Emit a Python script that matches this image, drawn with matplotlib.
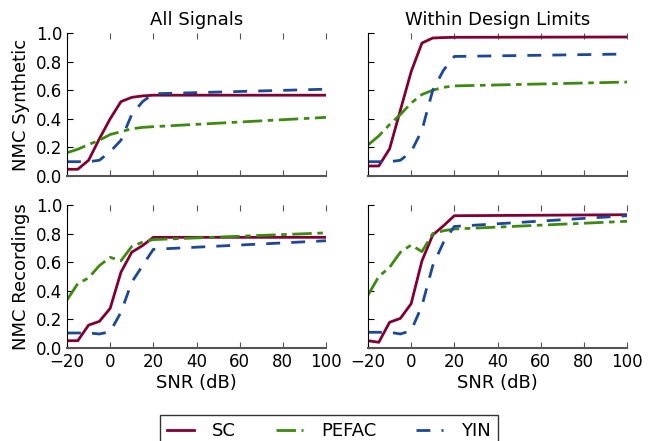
import matplotlib
matplotlib.use('Agg')
import matplotlib.pyplot as plt

# SNR grid (dB)
snr = [-20, -15, -10, -5, 0, 5, 10, 15, 20, 100]

# All Signals, synthetic
sc_syn_all = [0.047, 0.047, 0.11, 0.26, 0.40, 0.52, 0.55, 0.56, 0.565, 0.565]
pefac_syn_all = [0.163, 0.187, 0.22, 0.25, 0.29, 0.31, 0.33, 0.34, 0.345, 0.41]
yin_syn_all = [0.10, 0.10, 0.10, 0.11, 0.17, 0.25, 0.43, 0.52, 0.575, 0.607]

# Within Design Limits, synthetic
sc_syn_lim = [0.07, 0.07, 0.19, 0.46, 0.73, 0.93, 0.965, 0.968, 0.97, 0.972]
pefac_syn_lim = [0.217, 0.28, 0.36, 0.43, 0.51, 0.57, 0.60, 0.62, 0.63, 0.657]
yin_syn_lim = [0.10, 0.10, 0.10, 0.11, 0.17, 0.32, 0.60, 0.74, 0.836, 0.853]

# All Signals, recordings
sc_rec_all = [0.051, 0.051, 0.16, 0.186, 0.277, 0.53, 0.67, 0.716, 0.774, 0.774]
pefac_rec_all = [0.336, 0.45, 0.49, 0.576, 0.634, 0.61, 0.71, 0.74, 0.758, 0.805]
yin_rec_all = [0.105, 0.105, 0.105, 0.098, 0.114, 0.25, 0.46, 0.576, 0.69, 0.75]

# Within Design Limits, recordings
sc_rec_lim = [0.051, 0.04, 0.18, 0.207, 0.31, 0.61, 0.79, 0.855, 0.925, 0.932]
pefac_rec_lim = [0.37, 0.50, 0.564, 0.67, 0.72, 0.674, 0.80, 0.82, 0.832, 0.886]
yin_rec_lim = [0.11, 0.11, 0.11, 0.098, 0.121, 0.296, 0.576, 0.74, 0.85, 0.925]

col_titles = ['All Signals', 'Within Design Limits']
row_labels = ['NMC Synthetic', 'NMC Recordings']
methods = ['SC', 'PEFAC', 'YIN']

data = [
    [(sc_syn_all, pefac_syn_all, yin_syn_all), (sc_syn_lim, pefac_syn_lim, yin_syn_lim)],
    [(sc_rec_all, pefac_rec_all, yin_rec_all), (sc_rec_lim, pefac_rec_lim, yin_rec_lim)],
]

SC_COL = '#800033'
PEFAC_COL = '#3d8a12'
YIN_COL = '#1c4896'

plt.rcParams['font.family'] = 'DejaVu Sans'
plt.rcParams['font.size'] = 12

fig = plt.figure(figsize=(6.56, 4.41), dpi=100)

# axes placement (pixel-measured)
lefts = [67 / 656, 368 / 656]
bottoms = [1 - 176 / 441, 1 - 348 / 441]
w = 259 / 656
h = 143 / 441

handles = []
for r in range(2):
    for c in range(2):
        ax = fig.add_axes([lefts[c], bottoms[r], w, h])
        sc, pe, yn = data[r][c]
        l1, = ax.plot(snr, sc, color=SC_COL, lw=2, ls='-')
        l2, = ax.plot(snr, pe, color=PEFAC_COL, lw=2, dashes=(7, 2, 2, 2))
        l3, = ax.plot(snr, yn, color=YIN_COL, lw=2, dashes=(5, 4))
        handles = [l1, l2, l3]
        ax.set_xlim(-20, 100)
        ax.set_ylim(0, 1)
        ax.set_xticks([-20, 0, 20, 40, 60, 80, 100])
        ax.set_yticks([0, 0.2, 0.4, 0.6, 0.8, 1.0])
        ax.spines['top'].set_visible(False)
        ax.spines['right'].set_visible(False)
        ax.spines['bottom'].set_color('#555555')
        ax.spines['bottom'].set_linewidth(1.5)
        ax.tick_params(axis='x', direction='in', top=True, length=4, colors='#555555',
                       labelcolor='black', labelsize=12)
        ax.tick_params(axis='y', direction='in', right=False, length=4, labelsize=12)
        if r == 0:
            ax.set_title(col_titles[c], fontsize=13)
            ax.tick_params(labelbottom=False)
        else:
            ax.set_xlabel('SNR (dB)', fontsize=13, labelpad=2)
        if c == 0:
            ax.set_ylabel(row_labels[r], fontsize=13)
        else:
            ax.tick_params(labelleft=False)

leg = fig.legend(handles, methods, loc='upper center',
                 bbox_to_anchor=(0.5015, 1 - 415 / 441), ncol=3, fancybox=False,
                 edgecolor='black', fontsize=13, handlelength=1.5,
                 columnspacing=2.2, handletextpad=1.0, borderpad=0.4,
                 borderaxespad=0)
leg.get_frame().set_linewidth(1.0)

fig.savefig('out.png', dpi=100)
